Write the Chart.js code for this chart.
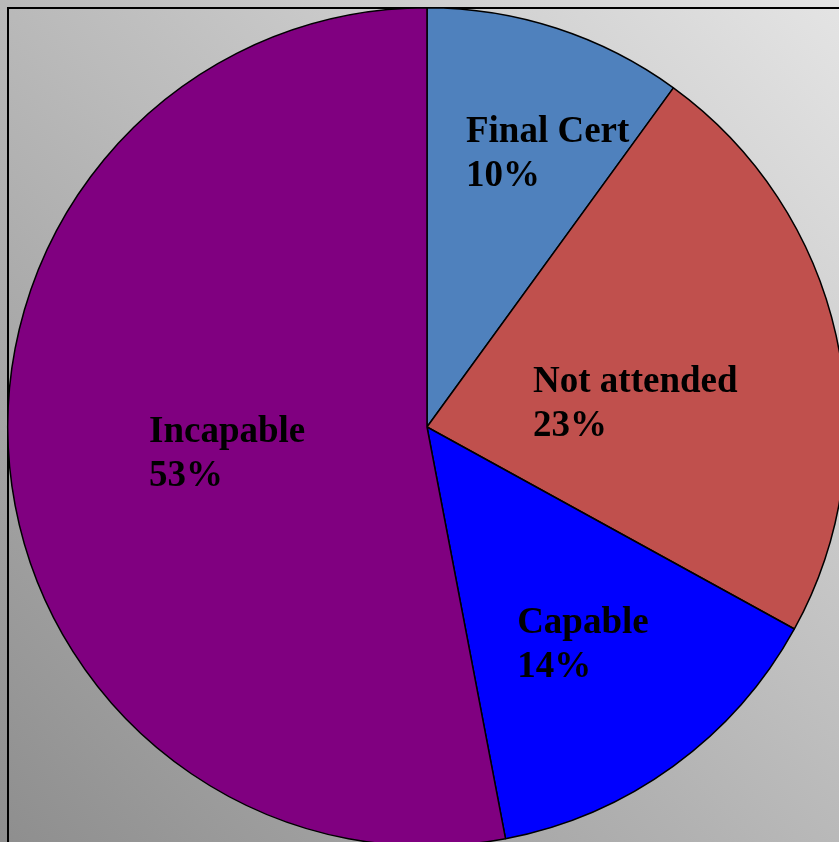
<!DOCTYPE html>
<html>
<head>
<meta charset="utf-8">
<title>Final Cert outcome</title>
<script src="https://cdn.jsdelivr.net/npm/chart.js@4/dist/chart.umd.min.js"></script>
<style>
  html, body { margin: 0; padding: 0; overflow: hidden; width: 839px; height: 842px; background: #b9b9b9; }
  #wrap { position: absolute; left: 0; top: 0; width: 860px; height: 860px; }
</style>
</head>
<body>
<div id="wrap"><canvas id="pie" width="860" height="860"></canvas></div>
<script>
// Outcome categories and their shares (percent)
const categories = ['Final Cert', 'Not attended', 'Capable', 'Incapable'];
const shares = [10, 23, 14, 53];
const sliceColors = ['#4F81BD', '#C0504D', '#0000FF', '#800080'];

// Where each label block starts: left edge and first baseline, in units of the pie radius from its centre
const labelAnchors = [
  { x: 0.093, y: -0.680 },
  { x: 0.253, y: -0.084 },
  { x: 0.215, y: 0.492 },
  { x: -0.663, y: 0.036 }
];

// Grey diagonal wash behind the plot plus the thin frame
const backdrop = {
  id: 'backdrop',
  beforeDraw(chart) {
    const ctx = chart.ctx;
    ctx.save();
    const g = ctx.createLinearGradient(0, 842, 839, 0);
    g.addColorStop(0, '#8e8e8e');
    g.addColorStop(1, '#e4e4e4');
    ctx.fillStyle = g;
    ctx.fillRect(0, 0, chart.width, chart.height);
    ctx.strokeStyle = '#000000';
    ctx.lineWidth = 2;
    ctx.strokeRect(8, 8, 900, 900);
    ctx.restore();
  }
};

// Two-line slice labels: category name, then its percentage
const sliceLabels = {
  id: 'sliceLabels',
  afterDatasetsDraw(chart, args, opts) {
    const ctx = chart.ctx;
    const meta = chart.getDatasetMeta(0);
    const values = chart.data.datasets[0].data;
    ctx.save();
    ctx.fillStyle = '#000000';
    ctx.font = 'bold ' + opts.size + 'px "Liberation Serif", "Times New Roman", serif';
    ctx.textAlign = 'left';
    ctx.textBaseline = 'alphabetic';
    meta.data.forEach((arc, i) => {
      const a = opts.anchors[i];
      const r = arc.outerRadius;
      const x = arc.x + a.x * r;
      const y = arc.y + a.y * r;
      ctx.fillText(chart.data.labels[i], x, y);
      ctx.fillText(values[i] + '%', x, y + opts.lineGap);
    });
    ctx.restore();
  }
};

new Chart(document.getElementById('pie'), {
  type: 'pie',
  data: {
    labels: categories,
    datasets: [{
      data: shares,
      backgroundColor: sliceColors,
      borderColor: '#000000',
      borderWidth: 1.5
    }]
  },
  options: {
    responsive: false,
    animation: false,
    layout: { padding: { left: 7, top: 7, right: 13, bottom: 13 } },
    plugins: {
      legend: { display: false },
      tooltip: { enabled: false },
      sliceLabels: { anchors: labelAnchors, size: 37, lineGap: 44 }
    }
  },
  plugins: [backdrop, sliceLabels]
});
</script>
</body>
</html>
